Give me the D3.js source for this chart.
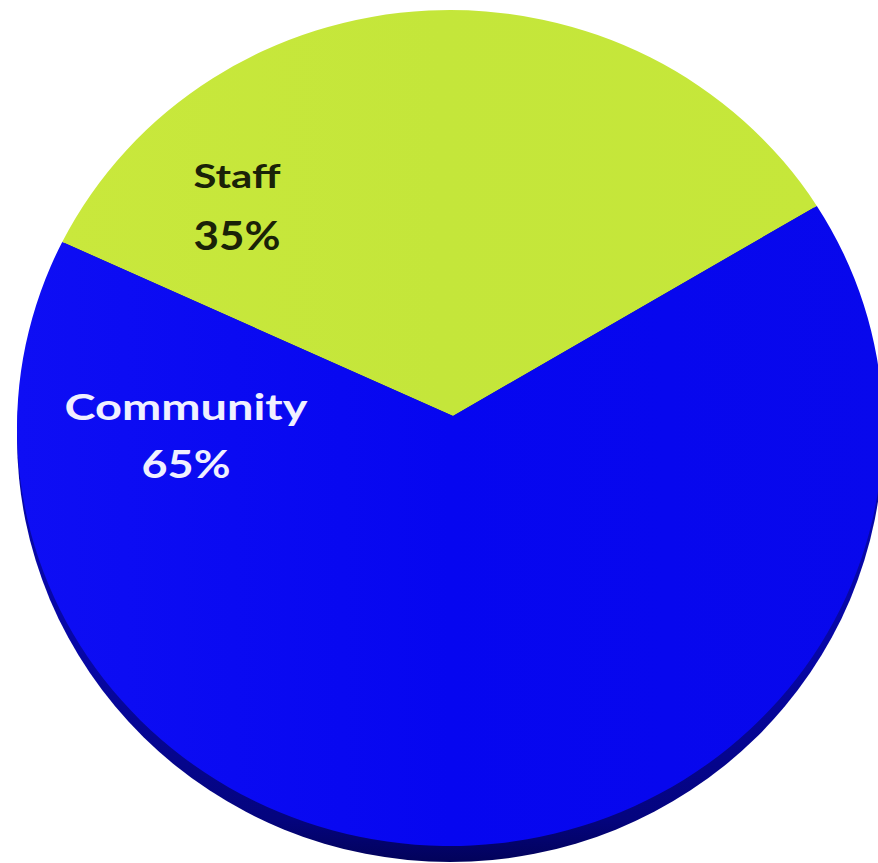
<!DOCTYPE html>
<html>
<head>
<meta charset="utf-8">
<script src="https://cdn.jsdelivr.net/npm/d3@7"></script>
<style>
  html, body { margin: 0; padding: 0; background: #ffffff; }
  svg { display: block; }
</style>
</head>
<body>
<svg id="chart" width="878" height="863"></svg>
<script>
// ---- data ----
const categories = ["Staff", "Community"];
const values = [35, 65];
const percentLabels = ["35%", "65%"];
const colors = ["#c6e83a", "#0808f0"];

// ---- layout ----
const cx = 450;                   // disc centre x
const topCy = 428, topRy = 418;   // top surface ellipse
const sideCy = 437, sideRy = 425; // outer outline incl. 3D edge
const rx = 433;
const k = topRy / rx;
const apex = [453, 416];          // visible pie vertex (perspective)
const startDeg = -66;

const svg = d3.select("#chart");
const defs = svg.append("defs");

const gBlue = defs.append("linearGradient").attr("id", "gBlue")
  .attr("x1", "0").attr("y1", "0").attr("x2", "1").attr("y2", "0");
gBlue.append("stop").attr("offset", "0").attr("stop-color", "#0e0ef4");
gBlue.append("stop").attr("offset", "0.5").attr("stop-color", "#0606f0");
gBlue.append("stop").attr("offset", "1").attr("stop-color", "#0808ec");

const gGreen = defs.append("linearGradient").attr("id", "gGreen")
  .attr("x1", "0").attr("y1", "0").attr("x2", "1").attr("y2", "0");
gGreen.append("stop").attr("offset", "0").attr("stop-color", "#c9e83c");
gGreen.append("stop").attr("offset", "0.5").attr("stop-color", "#c4e63a");
gGreen.append("stop").attr("offset", "1").attr("stop-color", "#c6e73a");

const gSide = defs.append("linearGradient").attr("id", "gSide")
  .attr("x1", "0").attr("y1", "0").attr("x2", "0").attr("y2", "1");
gSide.append("stop").attr("offset", "0.75").attr("stop-color", "#0707a6");
gSide.append("stop").attr("offset", "0.95").attr("stop-color", "#04047e");
gSide.append("stop").attr("offset", "1").attr("stop-color", "#02025a");

const fills = ["url(#gGreen)", "url(#gBlue)"];

// 3D edge under the disc
svg.append("ellipse")
  .attr("cx", cx).attr("cy", sideCy).attr("rx", rx).attr("ry", sideRy)
  .attr("fill", "url(#gSide)");

const pie = d3.pie().sort(null).value(d => d)
  .startAngle(startDeg * Math.PI / 180)
  .endAngle(startDeg * Math.PI / 180 + 2 * Math.PI);
const arcs = pie(values);

const g = svg.append("g").attr("transform", `translate(${cx},${topCy}) scale(1,${k})`);
const vx = apex[0] - cx, vy = (apex[1] - topCy) / k;

// ray from apex in screen direction theta (clockwise from up) -> rim point in group coords
function rim(theta) {
  const dx = Math.sin(theta), dy = -Math.cos(theta) / k;
  const a = dx * dx + dy * dy;
  const b = 2 * (vx * dx + vy * dy);
  const c = vx * vx + vy * vy - rx * rx;
  const t = (-b + Math.sqrt(b * b - 4 * a * c)) / (2 * a);
  return [vx + t * dx, vy + t * dy];
}

function slicePath(d) {
  const p0 = rim(d.startAngle), p1 = rim(d.endAngle);
  const a0 = Math.atan2(p0[1], p0[0]);
  const a1 = Math.atan2(p1[1], p1[0]);
  const p = d3.path();
  p.moveTo(vx, vy);
  p.lineTo(p0[0], p0[1]);
  p.arc(0, 0, rx, a0, a1, false);
  p.closePath();
  return p.toString();
}

g.selectAll("path.slice").data(arcs).join("path")
  .attr("class", "slice")
  .attr("d", slicePath)
  .attr("fill", (d, i) => fills[i]);

// ---- labels ----
const labelPos = [
  { x: 237, y1: 188, y2: 250, w1: 87, w2: 87, s1: 33, s2: 41, color: "#1a2208" },
  { x: 186, y1: 420, y2: 478, w1: 243, w2: 89, s1: 37, s2: 38, color: "#f0f0ff" }
];
const labels = svg.append("g").attr("font-family", "Lato, 'Open Sans', sans-serif").attr("font-weight", "bold");
categories.forEach((c, i) => {
  const L = labelPos[i];
  labels.append("text").text(c)
    .attr("x", L.x).attr("y", L.y1).attr("text-anchor", "middle")
    .attr("font-size", L.s1).attr("fill", L.color)
    .attr("textLength", L.w1).attr("lengthAdjust", "spacingAndGlyphs");
  labels.append("text").text(percentLabels[i])
    .attr("x", L.x).attr("y", L.y2).attr("text-anchor", "middle")
    .attr("font-size", L.s2).attr("fill", L.color)
    .attr("textLength", L.w2).attr("lengthAdjust", "spacingAndGlyphs");
});
</script>
</body>
</html>
